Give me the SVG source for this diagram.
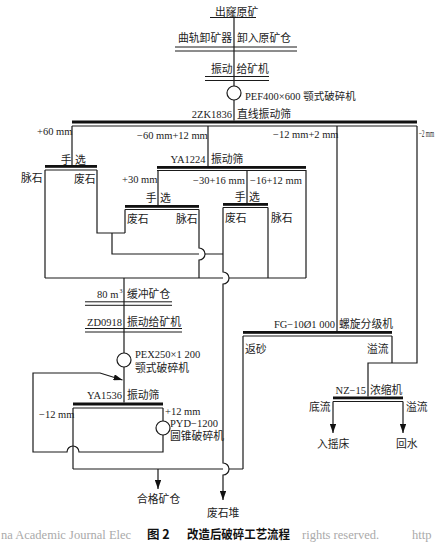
<svg xmlns="http://www.w3.org/2000/svg" width="437" height="542" viewBox="0 0 437 542">
<defs>
<style>
.ln{stroke:#1a1a1a;stroke-width:1.2;fill:none}
.th{stroke:#1a1a1a;stroke-width:1;fill:none}
.bar{fill:#111}
.t{font-family:"Liberation Serif","Noto Sans CJK SC",serif;font-size:10.5px;fill:#222}
.c{font-family:"Liberation Serif","Noto Sans CJK SC",serif;font-size:10.8px;fill:#222}
.cap{font-family:"Noto Sans CJK SC",sans-serif;font-size:12.5px;font-weight:bold;fill:#111}
.wm{font-family:"Liberation Serif",serif;font-size:12.5px;fill:#aaa}
.circ{fill:#fff;stroke:#1a1a1a;stroke-width:1.2}
</style>
<marker id="ah" viewBox="0 0 10 7" refX="10" refY="3.5" markerWidth="9" markerHeight="6.3" markerUnits="userSpaceOnUse" orient="auto">
<path d="M0,0 L10,3.5 L0,7 z" fill="#111"/>
</marker>
</defs>
<rect width="437" height="542" fill="#fff"/>

<text class="wm" x="1" y="538.5">na Academic Journal Elec</text>
<text class="wm" x="302" y="538.5">rights reserved.</text>
<text class="wm" x="412" y="538.5">http</text>

<g id="connectors">
<path class="ln" d="M234 17.5 V86"/>
<path class="ln" d="M234 100 V120.5"/>
<path class="ln" d="M72 126 V165"/>
<path class="ln" d="M208 126 V166"/>
<path class="ln" d="M337 126 V331"/>
<path class="ln" d="M417 126 V363 H368 V396.5"/>
<path class="ln" d="M392 336 V363"/>
<path class="ln" d="M243 336 V469"/>
<path class="ln" d="M45 170 V278"/>
<path class="ln" d="M97 170 V233 H125"/>
<path class="ln" d="M125 209.5 V233"/>
<path class="ln" d="M112 233 V254 H199 M205 254 H223"/>
<path class="ln" d="M199 209.5 V248 A6 6 0 0 1 199 260 V278"/>
<path class="ln" d="M158 170 V205"/>
<path class="ln" d="M247 170 V203"/>
<path class="ln" d="M223 207.5 V272 A6 6 0 0 1 223 284 V463 A6 6 0 0 1 223 475 V500" marker-end="url(#ah)"/>
<path class="ln" d="M268 207.5 V278"/>
<path class="ln" d="M306 170 V278"/>
<path class="ln" d="M45 278 H223 M229 278 H306"/>
<path class="ln" d="M124 278 V353"/>
<path class="ln" d="M124 367 V402.5"/>
<path class="ln" d="M73 408 V469"/>
<path class="ln" d="M163 408 V421"/>
<path class="ln" d="M163 435 V452 H79 A6 6 0 0 0 67 452 H33 V373 H100 L122.5 380" marker-end="url(#ah)"/>
<path class="ln" d="M73 469 H223 M229 469 H243"/>
<path class="ln" d="M158 469 V489" marker-end="url(#ah)"/>
<path class="ln" d="M333 401.5 V433" marker-end="url(#ah)"/>
<path class="ln" d="M403 401.5 V433" marker-end="url(#ah)"/>
</g>

<g id="raw-ore">
<text class="c" x="215" y="15.5">出窿原矿</text>
<line class="ln" x1="210" y1="17.5" x2="256" y2="17.5"/>
</g>

<g id="ore-bin">
<text class="c" x="232" y="42" text-anchor="end">曲轨卸矿器</text>
<text class="c" x="237" y="42">卸入原矿仓</text>
<line class="th" x1="175" y1="47" x2="297" y2="47"/>
<line class="th" x1="175" y1="51" x2="297" y2="51"/>
</g>

<g id="feeder1">
<text class="c" x="232.5" y="73" text-anchor="end">振动</text>
<text class="c" x="236.5" y="73">给矿机</text>
<line class="th" x1="205" y1="76.5" x2="269" y2="76.5"/>
<line class="th" x1="205" y1="80.5" x2="269" y2="80.5"/>
</g>

<g id="jaw-crusher1">
<circle class="circ" cx="234" cy="93" r="7"/>
<text class="t" x="245" y="100">PEF400×600 颚式破碎机</text>
</g>

<g id="screen-2zk">
<text class="t" x="232" y="118" text-anchor="end">2ZK1836</text>
<text class="c" x="237" y="118">直线振动筛</text>
<rect class="bar" x="72" y="120.5" width="345" height="3"/>
<line class="th" x1="72" y1="126" x2="417" y2="126"/>
<text class="t" x="37" y="135">+60 mm</text>
<text class="t" x="137" y="139">−60 mm+12 mm</text>
<text class="t" x="273" y="138">−12 mm+2 mm</text>
<text class="t" x="418.7" y="137" textLength="15.5" lengthAdjust="spacingAndGlyphs" style="font-size:9.5px">−2 mm</text>
</g>

<g id="hand-sort1">
<text class="c" x="71.5" y="164" text-anchor="end">手</text>
<text class="c" x="75" y="164">选</text>
<rect class="bar" x="45" y="165" width="52" height="2.8"/>
<line class="th" x1="45" y1="170" x2="97" y2="170"/>
<text class="c" x="21" y="182">脉石</text>
<text class="c" x="74" y="183">废石</text>
</g>

<g id="screen-ya1224">
<text class="t" x="205.5" y="163" text-anchor="end">YA1224</text>
<text class="c" x="211" y="163">振动筛</text>
<rect class="bar" x="157" y="166" width="149" height="2.8"/>
<line class="th" x1="157" y1="170.5" x2="306" y2="170.5"/>
<text class="t" x="122" y="182.5">+30 mm</text>
<text class="t" x="193" y="184">−30+16 mm</text>
<text class="t" x="250" y="184">−16+12 mm</text>
</g>

<g id="hand-sort2">
<text class="c" x="156.5" y="202" text-anchor="end">手</text>
<text class="c" x="160" y="202">选</text>
<rect class="bar" x="125" y="205" width="74" height="2.8"/>
<line class="th" x1="125" y1="209.5" x2="199" y2="209.5"/>
<text class="c" x="127" y="223">废石</text>
<text class="c" x="176" y="223">脉石</text>
</g>

<g id="hand-sort3">
<text class="c" x="245.5" y="201" text-anchor="end">手</text>
<text class="c" x="249" y="201">选</text>
<rect class="bar" x="223" y="203" width="45" height="2.8"/>
<line class="th" x1="223" y1="207.5" x2="268" y2="207.5"/>
<text class="c" x="225" y="222">废石</text>
<text class="c" x="271" y="222">脉石</text>
</g>

<g id="buffer-bin">
<text class="t" x="97" y="298">80 m</text>
<text class="t" x="119.5" y="293" style="font-size:6px">3</text>
<text class="c" x="127" y="298">缓冲矿仓</text>
<line class="th" x1="85" y1="301.8" x2="172" y2="301.8"/>
<line class="th" x1="85" y1="305.3" x2="172" y2="305.3"/>
</g>

<g id="feeder2">
<text class="t" x="122" y="326" text-anchor="end">ZD0918</text>
<text class="c" x="127" y="326">振动给矿机</text>
<line class="th" x1="85" y1="328.5" x2="182" y2="328.5"/>
<line class="th" x1="85" y1="332" x2="182" y2="332"/>
</g>

<g id="jaw-crusher2">
<circle class="circ" cx="124" cy="360" r="7"/>
<text class="t" x="135" y="358">PEX250×1 200</text>
<text class="c" x="135" y="372">颚式破碎机</text>
</g>

<g id="screen-ya1536">
<text class="t" x="122" y="399" text-anchor="end">YA1536</text>
<text class="c" x="127" y="399">振动筛</text>
<rect class="bar" x="73" y="402.5" width="90" height="3"/>
<line class="th" x1="73" y1="408" x2="163" y2="408"/>
<text class="t" x="39" y="418">−12 mm</text>
<text class="t" x="165" y="415">+12 mm</text>
</g>

<g id="cone-crusher">
<circle class="circ" cx="163" cy="428" r="7"/>
<text class="t" x="170" y="427">PYD−1200</text>
<text class="c" x="170" y="440">圆锥破碎机</text>
</g>

<g id="product-bin">
<text class="c" x="137" y="503">合格矿仓</text>
</g>

<g id="waste-pile">
<text class="c" x="207" y="517">废石堆</text>
</g>

<g id="classifier">
<text class="t" x="335" y="328" text-anchor="end">FG−10Ø1 000</text>
<text class="c" x="339" y="328">螺旋分级机</text>
<rect class="bar" x="243" y="331" width="149" height="2.8"/>
<line class="th" x1="243" y1="336" x2="392" y2="336"/>
<text class="c" x="245" y="353">返砂</text>
<text class="c" x="367" y="353">溢流</text>
</g>

<g id="thickener">
<text class="t" x="366" y="394" text-anchor="end">NZ−15</text>
<text class="c" x="370" y="394">浓缩机</text>
<rect class="bar" x="333" y="396.5" width="70" height="2.8"/>
<line class="th" x1="333" y1="401.5" x2="403" y2="401.5"/>
<text class="c" x="309" y="411">底流</text>
<text class="c" x="406" y="411">溢流</text>
</g>

<g id="shaking-table">
<text class="c" x="317" y="448">入摇床</text>
</g>

<g id="return-water">
<text class="c" x="396" y="448">回水</text>
</g>

<g id="caption">
<text class="cap" x="147" y="538.5">图 2</text>
<text class="cap" x="187" y="538.5" textLength="103" lengthAdjust="spacingAndGlyphs">改造后破碎工艺流程</text>
</g>
</svg>
